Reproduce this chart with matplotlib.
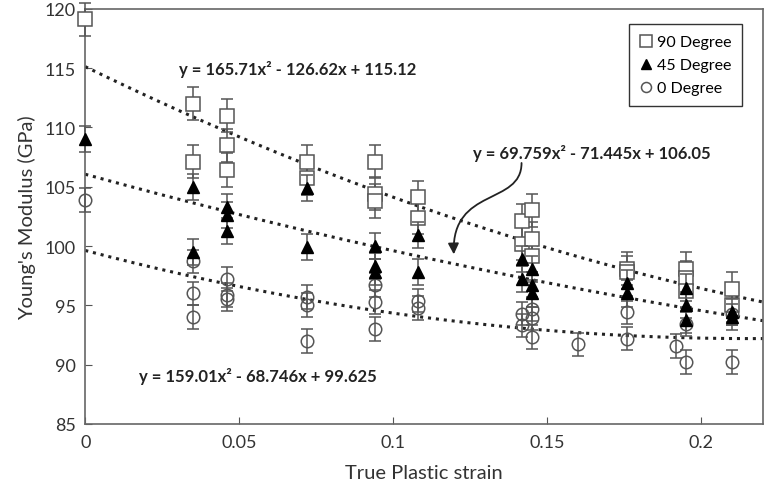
import numpy as np
import matplotlib
matplotlib.use("Agg")
import matplotlib.pyplot as plt
from matplotlib.path import Path
from matplotlib.patches import FancyArrowPatch
from matplotlib.lines import Line2D

plt.rcParams['font.family'] = ['Lato', 'DejaVu Sans']

# 90 degree samples
x90 = [0, 0.035, 0.035, 0.046, 0.046, 0.046, 0.072, 0.072, 0.094, 0.094, 0.094,
       0.108, 0.108, 0.142, 0.142, 0.145, 0.145, 0.145, 0.176, 0.176,
       0.195, 0.195, 0.195, 0.21, 0.21]
y90 = [119.1, 112.0, 107.1, 111.0, 108.5, 106.4, 107.1, 105.7, 107.1, 104.4, 103.8,
       104.1, 102.4, 102.1, 100.2, 103.0, 100.6, 99.2, 98.1, 97.8,
       98.1, 97.3, 96.2, 96.4, 95.0]
err90 = 1.4

# 45 degree samples
x45 = [0, 0.035, 0.035, 0.046, 0.046, 0.046, 0.072, 0.072, 0.094, 0.094, 0.094,
       0.108, 0.108, 0.142, 0.142, 0.145, 0.145, 0.145, 0.176, 0.176,
       0.195, 0.195, 0.195, 0.21, 0.21]
y45 = [109.0, 105.0, 99.5, 103.3, 102.6, 101.3, 104.9, 99.9, 100.0, 98.3, 97.8,
       100.9, 97.8, 98.9, 97.2, 98.1, 96.7, 96.0, 96.9, 96.0,
       96.5, 95.0, 93.8, 94.4, 94.0]
err45 = 1.1

# 0 degree samples
x0 = [0, 0.035, 0.035, 0.035, 0.046, 0.046, 0.046, 0.072, 0.072, 0.072,
      0.094, 0.094, 0.094, 0.108, 0.108, 0.142, 0.142, 0.145, 0.145, 0.145,
      0.16, 0.176, 0.176, 0.192, 0.195, 0.195, 0.21, 0.21]
y0 = [103.9, 98.7, 96.0, 94.0, 97.2, 95.9, 95.5, 95.7, 95.0, 92.0,
      96.7, 95.3, 93.0, 95.4, 94.8, 94.3, 93.3, 94.7, 93.9, 92.3,
      91.7, 94.4, 92.2, 91.6, 93.4, 90.2, 94.3, 90.2]
err0 = 1.0

# quadratic trendline coefficients (as printed on the chart)
fit90 = [165.71, -126.62, 115.12]
fit45 = [69.759, -71.445, 106.05]
fit0 = [159.01, -68.746, 99.625]

fig = plt.figure(figsize=(7.68, 4.89), dpi=100)
ax = fig.add_axes([0.111, 0.131, 0.882, 0.849])

gray = '#555555'
ebkw = dict(ecolor=gray, elinewidth=1.1, capsize=4.5, capthick=1.1, linestyle='none')

sq = dict(marker='s', ms=10, mfc='white', mec=gray, mew=1.1)
tri = dict(marker='^', ms=9, mfc='black', mec='black')
circ = dict(marker='o', ms=9, mfc='none', mec=gray, mew=1.1)

for xv, yv, ev, st, z in ((x90, y90, err90, sq, 3), (x45, y45, err45, tri, 4), (x0, y0, err0, circ, 3)):
    lines = ax.errorbar(xv, yv, yerr=ev, zorder=z, **st, **ebkw)
    for art in lines.get_children():
        art.set_clip_on(False)

xs = np.linspace(0, 0.22, 200)
for c in (fit90, fit45, fit0):
    ax.plot(xs, np.polyval(c, xs), color='#222222', lw=2.2, linestyle=(0, (1, 1.6)), zorder=2)

tk = dict(fontsize=12, fontweight='bold', color='#222222', va='center')
ax.text(0.0306, 115.0, 'y = 165.71x² - 126.62x + 115.12', **tk)
ax.text(0.126, 107.9, 'y = 69.759x² - 71.445x + 106.05', **tk)
ax.text(0.0176, 89.1, 'y = 159.01x² - 68.746x + 99.625', **tk)

arrow_path = Path([(0.1417, 107.0), (0.1417, 103.4), (0.119, 105.0), (0.1197, 99.3)],
                  [Path.MOVETO, Path.CURVE4, Path.CURVE4, Path.CURVE4])
ax.add_patch(FancyArrowPatch(path=arrow_path, arrowstyle='-|>', mutation_scale=16,
                             color='#222222', lw=1.3, zorder=5))

ax.set_xlim(0, 0.22)
ax.set_ylim(85, 120)
ax.set_xticks([0, 0.05, 0.1, 0.15, 0.2])
ax.set_xticklabels(['0', '0.05', '0.1', '0.15', '0.2'])
ax.set_yticks(range(85, 121, 5))
ax.tick_params(direction='in', length=5, color=gray, labelsize=13, labelcolor='#333333', pad=7)
for s in ax.spines.values():
    s.set_color('#666666')
    s.set_linewidth(1.2)

ax.set_xlabel('True Plastic strain', fontsize=14.5, color='#333333', labelpad=10)
ax.set_ylabel("Young's Modulus (GPa)", fontsize=14.5, color='#333333', labelpad=6)

handles = [Line2D([], [], linestyle='none', **sq),
           Line2D([], [], linestyle='none', **tri),
           Line2D([], [], linestyle='none', **circ)]
leg = ax.legend(handles, ['90 Degree', '45 Degree', '0 Degree'], loc='upper right',
                bbox_to_anchor=(0.977, 0.975), fontsize=11.5,
                frameon=True, fancybox=False, handlelength=0.7, handletextpad=0.3,
                borderpad=0.7, borderaxespad=0.3, labelspacing=0.55, markerscale=0.8,
                framealpha=1)
leg.get_frame().set_edgecolor('#333333')
leg.get_frame().set_linewidth(1.0)

fig.savefig('out.png', dpi=100)
